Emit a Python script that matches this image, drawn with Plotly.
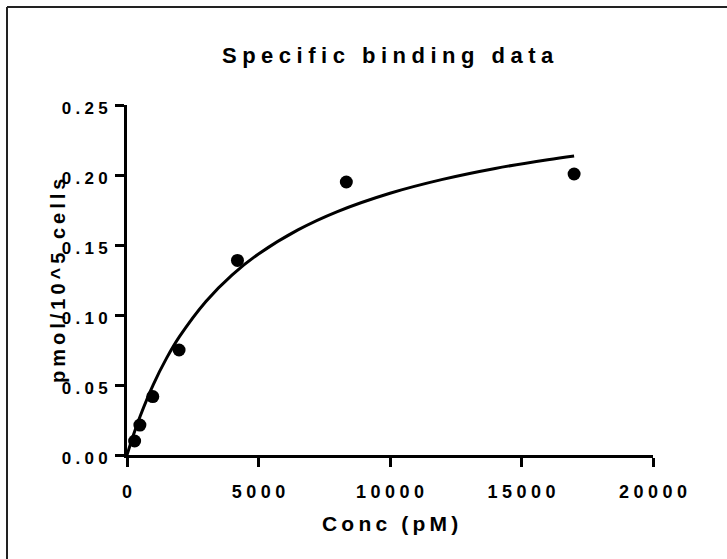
import plotly.graph_objects as go

# ---- data ----
conc = [290, 490, 980, 1980, 4200, 8340, 17000]
bound = [0.010, 0.0214, 0.0417, 0.075, 0.139, 0.195, 0.2007]

fit_x = [0, 250, 500, 1000, 1500, 2000, 3000, 4000, 5000, 6500, 8000, 10000, 12000, 14000, 16000, 17000]
fit_y = [0, 0.0146, 0.0277, 0.0503, 0.0690, 0.0847, 0.1097, 0.1287, 0.1436, 0.1608, 0.1739, 0.1870, 0.1969, 0.2047, 0.2109, 0.2136]

x_ticks = [0, 5000, 10000, 15000, 20000]
x_tick_labels = ["0", "5000", "10000", "15000", "20000"]
y_ticks = [0, 0.05, 0.10, 0.15, 0.20, 0.25]
y_tick_labels = ["0.00", "0.05", "0.10", "0.15", "0.20", "0.25"]

title_text = "Specific binding data"
x_title = "Conc (pM)"
y_title = "pmol/10^5 cells"

# ---- layout geometry ----
W, H = 727, 559
L, R, T, B = 127, 74, 105, 104
PW, PH = W - L - R, H - T - B

def px(xp):
    return (xp - L) / PW

def py(yp):
    return (H - B - yp) / PH

def spaced(s, sp):
    return sp.join(list(s))

SP4 = "\u2005"  # four-per-em space
THIN = "\u2009"

FONT = "Liberation Sans, Arial, sans-serif"

fig = go.Figure()
fig.add_trace(go.Scatter(x=fit_x, y=fit_y, mode="lines", line=dict(color="black", width=3, shape="spline"),
                         showlegend=False, hoverinfo="skip"))
fig.add_trace(go.Scatter(x=conc, y=bound, mode="markers", marker=dict(color="black", size=13),
                         showlegend=False))

axis_common = dict(showline=True, linewidth=3, linecolor="black", ticks="outside", ticklen=9,
                   tickwidth=3, tickcolor="black", showgrid=False, zeroline=False)

fig.update_xaxes(range=[0, 20000], tickvals=x_ticks, ticktext=[spaced(t, SP4) for t in x_tick_labels],
                 ticklabelstandoff=9,
                 tickfont=dict(family=FONT, size=18, color="black", weight="bold"), **axis_common)
fig.update_yaxes(range=[0, 0.25], tickvals=y_ticks, ticktext=[spaced(t, SP4) for t in y_tick_labels],
                 ticklabelstandoff=4, ticklabelshift=3,
                 tickfont=dict(family=FONT, size=17, color="black", weight="bold"), **axis_common)

fig.update_layout(
    width=W, height=H, margin=dict(l=L, r=R, t=T, b=B, pad=0),
    paper_bgcolor="white", plot_bgcolor="white",
    annotations=[
        dict(text=spaced(title_text, SP4), x=px(388), y=py(55), xref="paper", yref="paper",
             xanchor="center", yanchor="middle", showarrow=False,
             font=dict(family=FONT, size=22, color="black", weight="bold")),
        dict(text=spaced(x_title, THIN), x=px(390), y=py(523), xref="paper", yref="paper",
             xanchor="center", yanchor="middle", showarrow=False,
             font=dict(family=FONT, size=21, color="black", weight="bold")),
        dict(text=spaced(y_title, THIN), x=px(58), y=py(281), xref="paper", yref="paper",
             xanchor="center", yanchor="middle", showarrow=False, textangle=-90,
             font=dict(family=FONT, size=20, color="black", weight="bold")),
    ],
    shapes=[
        dict(type="line", xref="paper", yref="paper", x0=px(7), x1=px(7), y0=py(7), y1=py(570),
             line=dict(color="#222", width=2)),
        dict(type="line", xref="paper", yref="paper", x0=px(7), x1=px(740), y0=py(7), y1=py(7),
             line=dict(color="#222", width=2)),
    ],
)

fig.write_html("out.html")
